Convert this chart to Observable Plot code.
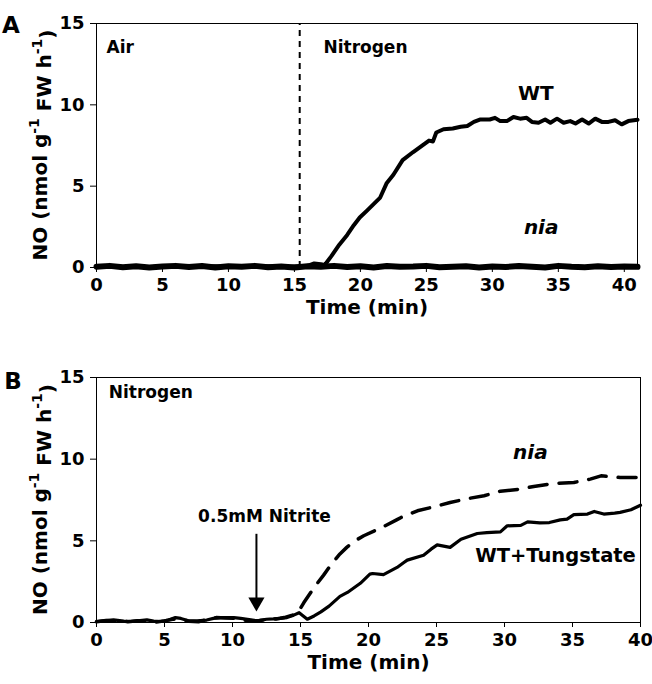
<!DOCTYPE html>
<html>
<head>
<meta charset="utf-8">
<script src="https://cdn.jsdelivr.net/npm/d3@7"></script>
<script src="https://cdn.jsdelivr.net/npm/@observablehq/plot@0.6"></script>
<style>
  html, body { margin: 0; padding: 0; background: #fff; }
  #chart > svg { display: block; }
</style>
</head>
<body>
<div id="chart"></div>
<script>
// ---------- Panel A data ----------
const timeWT_A = [0,1,2,3,4,5,6,7,8,9,10,11,12,13,14,15,16,16.5,17,17.3,17.8,18.4,19.0,19.5,19.95,20.5,21.0,21.5,22.0,22.5,23.2,24.0,24.6,25.2,25.5,25.75,26.3,27.0,27.6,28.1,28.6,29.1,29.8,30.2,30.6,31.1,31.6,32.1,32.6,33.0,33.5,34.0,34.4,34.9,35.4,35.9,36.3,36.8,37.3,37.8,38.3,38.8,39.3,39.8,40.3,41];
const valueWT_A = [0.05,0.1,0.03,0.08,0.02,0.07,0.04,0.1,0.05,0.08,0.03,0.09,0.04,0.07,0.03,0.06,0.1,0.25,0.2,0.15,0.7,1.4,2.0,2.6,3.07,3.5,3.9,4.3,5.2,5.7,6.6,7.1,7.45,7.8,7.75,8.3,8.5,8.55,8.65,8.7,8.95,9.1,9.1,9.2,9.0,9.0,9.25,9.15,9.2,8.95,8.9,9.1,8.9,9.15,8.9,9.0,8.85,9.1,8.85,9.15,8.95,8.95,9.05,8.8,9.0,9.08];
const timeNia_A = [0,1,2,3,4,5,6,7,8,9,10,11,12,13,14,15,16,17,18,19,20,21,22,23,24,25,26,27,28,29,30,31,32,33,34,35,36,37,38,39,40,41];
const valueNia_A = [0.05,0.1,0.02,0.08,0.0,0.06,0.1,0.03,0.09,0.0,0.07,0.04,0.1,0.02,0.06,0.0,0.08,0.05,0.1,0.03,0.07,0.0,0.09,0.04,0.06,0.1,0.02,0.05,0.08,0.0,0.06,0.03,0.09,0.04,0.0,0.1,0.05,0.02,0.07,0.03,0.06,0.04];
const ticksA_x = [0,5,10,15,20,25,30,35,40];
const ticksY = [0,5,10,15];

// ---------- Panel B data ----------
const timeWTT_B = [0,0.5,1.25,2,2.5,3.2,3.7,4.2,4.7,5.3,5.8,6.2,6.7,7.4,8.1,8.6,9.1,9.6,10.1,10.6,11.1,11.8,12.5,13.0,13.5,14.0,14.5,14.9,15.2,15.5,16.0,16.5,17.1,17.9,18.45,19.4,20.1,20.3,21.1,22.1,22.6,22.85,24.05,24.6,25.05,26.0,26.8,28.0,28.7,29.7,30.2,31.2,31.7,32.6,33.3,34.1,34.6,35.1,36.1,36.6,37.3,38.1,38.5,39.3,40];
const valueWTT_B = [0.06,0.1,0.16,0.08,0.06,0.12,0.16,0.08,0.06,0.15,0.3,0.25,0.12,0.1,0.15,0.25,0.3,0.3,0.3,0.25,0.2,0.1,0.2,0.22,0.25,0.3,0.45,0.6,0.4,0.2,0.4,0.65,1.0,1.6,1.84,2.4,2.96,3.0,2.93,3.37,3.67,3.82,4.12,4.49,4.75,4.6,5.1,5.45,5.5,5.55,5.92,5.95,6.16,6.1,6.12,6.28,6.33,6.6,6.64,6.8,6.64,6.7,6.74,6.9,7.18];
const timeNia_B = [0,0.7,1.5,2.3,3,3.6,4.4,5,5.6,6.2,6.8,7.5,8.2,8.8,9.5,10.2,10.8,11.4,12,12.6,13.2,13.8,14.4,14.8,15.25,16.0,16.7,17.3,17.9,18.4,18.9,19.65,20.9,22.1,22.4,23.6,24.8,26.0,27.4,28.5,29.7,31.2,32.15,33.6,35.1,36.3,37.1,38.5,40];
const valueNia_B = [0.05,0.12,0.08,0.05,0.1,0.08,0.03,0.1,0.2,0.2,0.08,0.05,0.2,0.3,0.28,0.25,0.15,0.1,0.12,0.18,0.22,0.3,0.45,0.6,1.22,2.14,2.9,3.6,4.2,4.6,4.95,5.31,5.78,6.3,6.43,6.84,7.08,7.35,7.6,7.76,8.04,8.17,8.33,8.51,8.57,8.78,8.98,8.88,8.88];
const ticksB_x = [0,5,10,15,20,25,30,35,40];

const FONT = "'DejaVu Sans', 'Liberation Sans', Arial, sans-serif";

const toRows = (ts, vs) => ts.map((t, i) => ({t, v: vs[i]}));

function addYLabel(svg, chart, cx) {
  const y = chart.scale("y");
  const cy = (y.apply(0) + y.apply(15)) / 2;
  const t = d3.select(svg).append("text")
    .attr("transform", `translate(${cx},${cy}) rotate(-90)`)
    .attr("text-anchor", "middle")
    .attr("dy", "0.36em")
    .attr("font-family", FONT)
    .attr("font-weight", "bold")
    .attr("font-size", 20)
    .attr("fill", "#000");
  t.append("tspan").text("NO (nmol g");
  t.append("tspan").attr("font-size", 14).attr("dy", "-0.6em").text("-1");
  t.append("tspan").attr("dy", "0.6em").text(" FW h");
  t.append("tspan").attr("font-size", 14).attr("dy", "-0.6em").text("-1");
  t.append("tspan").attr("dy", "0.6em").text(")");
}

function addLetter(svg, letter, x, y) {
  d3.select(svg).append("text")
    .attr("x", x).attr("y", y)
    .attr("font-family", FONT)
    .attr("font-weight", "bold")
    .attr("font-size", 23)
    .attr("fill", "#000")
    .text(letter);
}

const commonStyle = {fontFamily: FONT, fontWeight: "bold", fontSize: "18px", color: "#000", background: "#fff", overflow: "visible"};

// ---------- Panel A ----------
const chartA = Plot.plot({
  width: 652,
  height: 335,
  marginLeft: 96,
  marginRight: 15,
  marginTop: 23,
  marginBottom: 68,
  style: commonStyle,
  x: {domain: [0, 41]},
  y: {domain: [0, 15]},
  marks: [
    Plot.ruleX([15.4], {y1: 0, y2: 15, stroke: "#000", strokeWidth: 2, strokeDasharray: "6,5"}),
    Plot.line(toRows(timeNia_A, valueNia_A), {x: "t", y: "v", stroke: "#000", strokeWidth: 6, strokeLinejoin: "round"}),
    Plot.line(toRows(timeWT_A, valueWT_A), {x: "t", y: "v", stroke: "#000", strokeWidth: 4, strokeLinejoin: "round", strokeLinecap: "round"}),
    Plot.frame({stroke: "#000", strokeWidth: 1}),
    Plot.axisX({ticks: ticksA_x, tickSize: 5, tickPadding: 6, label: null, fontSize: 18, fontWeight: "bold"}),
    Plot.axisY({ticks: ticksY, tickSize: 6, tickPadding: 6, label: null, fontSize: 18, fontWeight: "bold"}),
    Plot.text(["Time (min)"], {frameAnchor: "bottom", dy: 46, fontSize: 20, fontWeight: "bold", fill: "#000"}),
    Plot.text(["Air"], {x: [0.76], y: [13.5], textAnchor: "start", fontSize: 17, fontWeight: "bold", fill: "#000"}),
    Plot.text(["Nitrogen"], {x: [17.2], y: [13.5], textAnchor: "start", fontSize: 17, fontWeight: "bold", fill: "#000"}),
    Plot.text(["WT"], {x: [33.3], y: [10.7], fontSize: 20, fontWeight: "bold", fill: "#000"}),
    Plot.text(["nia"], {x: [33.7], y: [2.45], fontSize: 20, fontWeight: "bold", fontStyle: "italic", fill: "#000"})
  ]
});

// ---------- Panel B ----------
const chartB = Plot.plot({
  width: 652,
  height: 349,
  marginLeft: 96,
  marginRight: 12,
  marginTop: 42,
  marginBottom: 62,
  style: commonStyle,
  x: {domain: [0, 40]},
  y: {domain: [0, 15]},
  marks: [
    Plot.line(toRows(timeNia_B, valueNia_B), {x: "t", y: "v", stroke: "#000", strokeWidth: 3.5, strokeDasharray: "18,12", strokeLinejoin: "round"}),
    Plot.line(toRows(timeWTT_B, valueWTT_B), {x: "t", y: "v", stroke: "#000", strokeWidth: 3.2, strokeLinejoin: "round", strokeLinecap: "round"}),
    Plot.link([0], {x1: 11.76, x2: 11.76, y1: 5.43, y2: 1.4, stroke: "#000", strokeWidth: 2}),
    Plot.dot([0], {x: 11.76, y: 1.25, symbol: "triangle", r: 6, rotate: 180, fill: "#000", stroke: "none"}),
    Plot.frame({stroke: "#000", strokeWidth: 1}),
    Plot.axisX({ticks: ticksB_x, tickSize: 5, tickPadding: 6, label: null, fontSize: 18, fontWeight: "bold"}),
    Plot.axisY({ticks: ticksY, tickSize: 6, tickPadding: 6, label: null, fontSize: 18, fontWeight: "bold"}),
    Plot.text(["Time (min)"], {frameAnchor: "bottom", dy: 46, fontSize: 20, fontWeight: "bold", fill: "#000"}),
    Plot.text(["Nitrogen"], {x: [0.9], y: [14.1], textAnchor: "start", fontSize: 17, fontWeight: "bold", fill: "#000"}),
    Plot.text(["0.5mM Nitrite"], {x: [12.35], y: [6.5], fontSize: 17, fontWeight: "bold", fill: "#000"}),
    Plot.text(["nia"], {x: [31.9], y: [10.4], fontSize: 20, fontWeight: "bold", fontStyle: "italic", fill: "#000"}),
    Plot.text(["WT+Tungstate"], {x: [33.75], y: [4.08], fontSize: 19.5, fontWeight: "bold", fill: "#000"})
  ]
});

addYLabel(chartA, chartA, 40);
addLetter(chartA, "A", 11, 33);
addYLabel(chartB, chartB, 40);
addLetter(chartB, "B", 13, 54);

document.getElementById("chart").append(chartA, chartB);
</script>
</body>
</html>
